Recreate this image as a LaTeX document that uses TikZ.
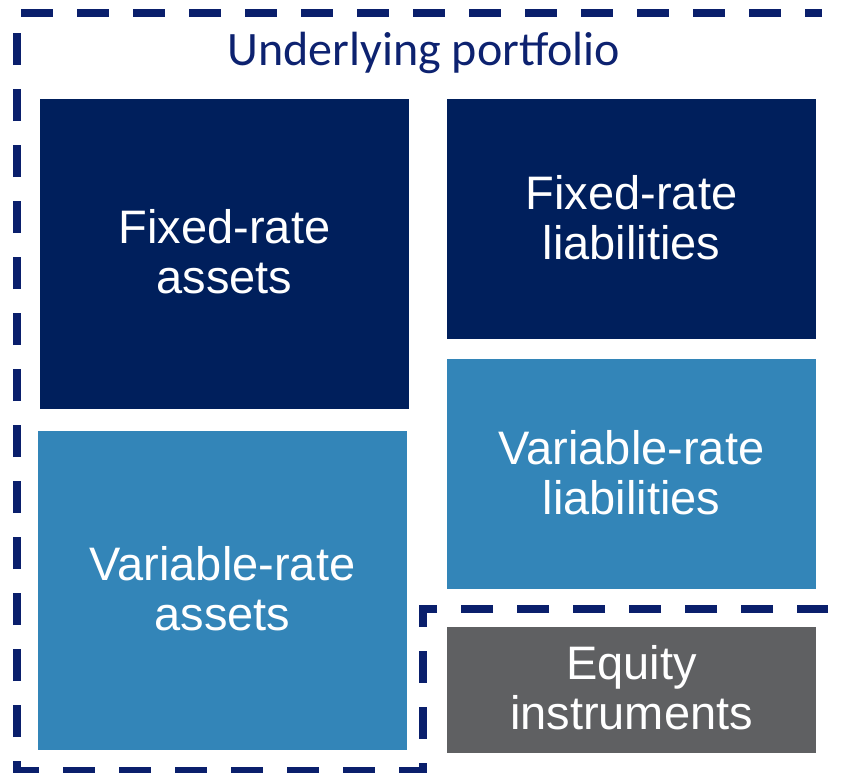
\documentclass[tikz,border=0pt]{standalone}
\usepackage{fontspec}
\setmainfont{Liberation Sans}
\newfontfamily\titlefont{Carlito}
\definecolor{navy}{HTML}{001F5C}
\definecolor{lightblue}{HTML}{3385B8}
\definecolor{eqgray}{HTML}{5F6062}
\definecolor{dashblue}{HTML}{0A1F6C}
\definecolor{titleblue}{HTML}{0D2270}
\begin{document}
\begin{tikzpicture}[x=1pt,y=-1pt,
  boxtext/.style={text=white,align=center,font=\fontsize{47}{50}\selectfont},
  bordash/.style={draw=dashblue,line width=8pt,dash pattern=on 32pt off 24pt,dash phase=1pt}]
\useasboundingbox (0,0) rectangle (844,772);
% boxes
\fill[navy] (40,99) rectangle (409,409);
\fill[navy] (447,99) rectangle (816,339);
\fill[lightblue] (447,359) rectangle (816,589);
\fill[lightblue] (38,431) rectangle (407,750);
\fill[eqgray] (447,627) rectangle (816,753);
% labels
\node[boxtext] (fra) at (224.5,252) {Fixed-rate\\assets};
\node[boxtext] (frl) at (631.5,218) {Fixed-rate\\liabilities};
\node[boxtext] (vrl) at (631.5,473) {Variable-rate\\liabilities};
\node[boxtext] (vra) at (222.5,589) {Variable-rate\\assets};
\node[boxtext] (eq) at (631.5,688) {Equity\\instruments};
\node[text=titleblue,font=\titlefont\fontsize{48}{50}\selectfont] (title) at (424,53) {Underlying portfolio};
% dashed outline
\draw[bordash] (828,609) -- (423,609) -- (423,771) -- (17,771) -- (17,13) -- (822,13);
\end{tikzpicture}
\end{document}
